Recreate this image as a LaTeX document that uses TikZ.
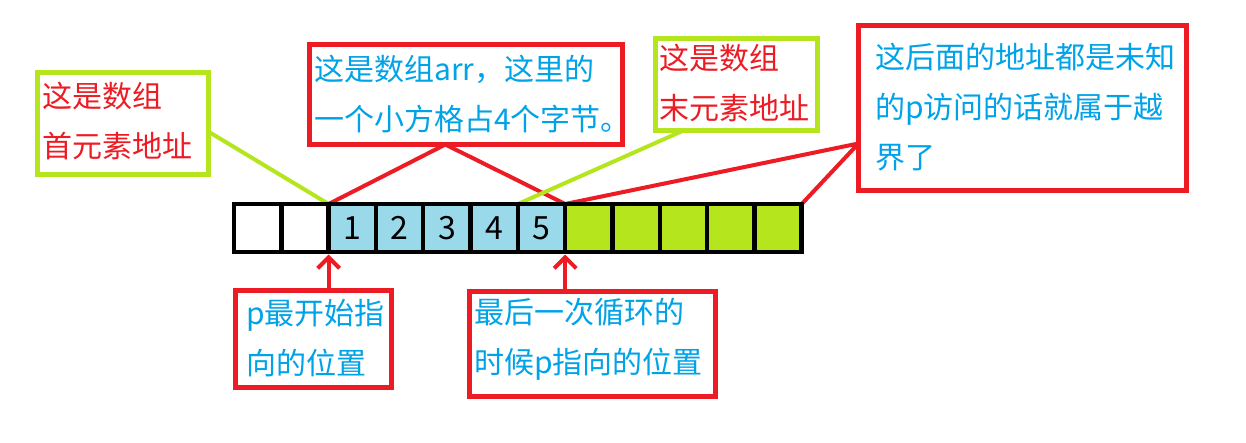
\documentclass[tikz,border=0pt]{standalone}
\usepackage{fontspec}
\newfontfamily\cjk{Noto Sans CJK SC}
\usetikzlibrary{arrows.meta,calc}
\definecolor{myred}{HTML}{ED1C24}
\definecolor{mylime}{HTML}{B5E61D}
\definecolor{myblue}{HTML}{00A2E8}
\definecolor{cellblue}{HTML}{99D9EA}
\pgfdeclarelayer{bglayer}
\pgfdeclarelayer{linelayer}
\pgfsetlayers{bglayer,linelayer,main}
\begin{document}
\begin{tikzpicture}[x=1pt,y=-1pt,
  gbox/.style={draw=mylime, line width=5pt, fill=white, outer sep=0pt, inner sep=0pt},
  rbox/.style={draw=myred, line width=5pt, fill=white, outer sep=0pt, inner sep=0pt},
  txt/.style={anchor=west, align=left, inner sep=0pt, font=\cjk\fontsize{30}{50}\selectfont},
  redtxt/.style={txt, text=myred},
  bluetxt/.style={txt, text=myblue},
  cell/.style={draw=black, line width=4.5pt, minimum width=47.31pt, minimum height=48pt, inner sep=0pt, outer sep=0pt, font=\cjk\fontsize{32}{33}\selectfont},
  gline/.style={draw=mylime, line width=4pt},
  rline/.style={draw=myred, line width=4pt},
  parrow/.style={draw=myred, line width=4pt, -{Straight Barb[length=11pt,width=22pt]}, shorten >=2.5pt}
]
\begin{pgfonlayer}{bglayer}
\fill[white] (0,0) rectangle (1246,442);
\end{pgfonlayer}
\useasboundingbox (0,0) rectangle (1246,442);

% boxes
\node[gbox, minimum width=171pt, minimum height=102pt] (b1) at (123,123.5) {};
\node[rbox, minimum width=313.5pt, minimum height=100.5pt] (b2) at (465.75,94.25) {};
\node[gbox, minimum width=162pt, minimum height=91.5pt] (b3) at (736.5,84.25) {};
\node[rbox, minimum width=328pt, minimum height=165pt] (b4) at (1022.5,108) {};
\node[rbox, minimum width=156pt, minimum height=97pt] (b5) at (313.5,339) {};
\node[rbox, minimum width=246pt, minimum height=105pt] (b6) at (592.5,344) {};

% texts
\node[redtxt] (t1) at (42,121) {这是数组\\首元素地址};
\node[bluetxt] (t2) at (314,94) {这是数组arr，这里的\\一个小方格占4个字节。};
\node[redtxt] (t3) at (659,83) {这是数组\\末元素地址};
\node[bluetxt] (t4) at (875,107.5) {这后面的地址都是未知\\的p访问的话就属于越\\界了};
\node[bluetxt] (t5) at (246,338) {p最开始指\\向的位置};
\node[bluetxt] (t6) at (474,339) {最后一次循环的\\时候p指向的位置};

% array cells
\foreach \i/\c/\t in {1/white/{},2/white/{},3/cellblue/1,4/cellblue/2,5/cellblue/3,6/cellblue/4,7/cellblue/5,8/mylime/{},9/mylime/{},10/mylime/{},11/mylime/{},12/mylime/{}}
  \node[cell, fill=\c] (c\i) at ({234+23.655+(\i-1)*47.31},228) {\raisebox{-2pt}{\t}};

% connectors behind boxes and cells
\begin{pgfonlayer}{linelayer}
  \draw[gline] ($(b1.north east)!0.58!(b1.south east)$) -- (c3.north west);
  \coordinate (b2s) at ($(b2.south west)!0.435!(b2.south east)$);
  \draw[rline] (c3.north west) -- (b2s) -- (c8.north west);
  \draw[gline] ($(b3.south west)!0.18!(b3.south east)$) -- (c7.north west);
  \coordinate (b4w) at ($(b4.north west)!0.715!(b4.south west)$);
  \draw[rline] (c8.north west) -- (b4w) -- (c12.north east);
\end{pgfonlayer}

% pointer arrows
\draw[parrow] (c3.south west |- b5.north) -- (c3.south west);
\draw[parrow] (c8.south west |- b6.north) -- (c8.south west);
\end{tikzpicture}
\end{document}
